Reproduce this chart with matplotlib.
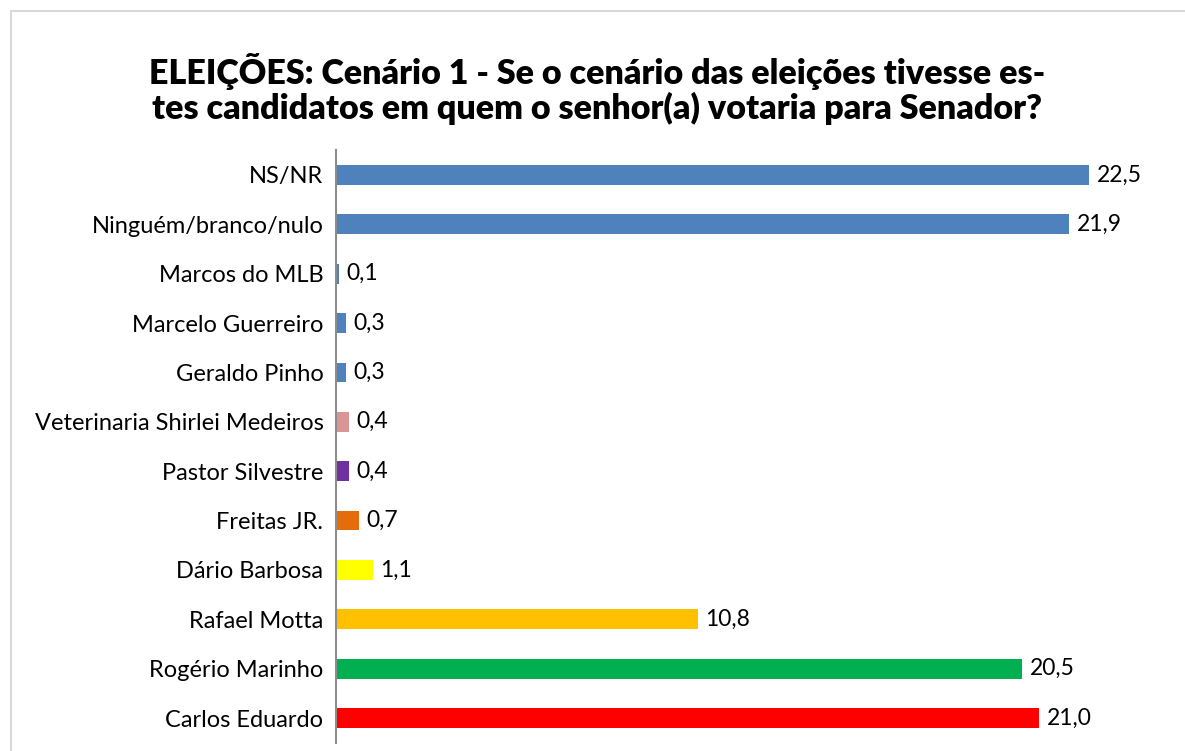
import matplotlib.pyplot as plt
from matplotlib.patches import Rectangle

# Dados do gráfico (de cima para baixo)
candidatos = ["NS/NR", "Ninguém/branco/nulo", "Marcos do MLB", "Marcelo Guerreiro",
              "Geraldo Pinho", "Veterinaria Shirlei Medeiros", "Pastor Silvestre",
              "Freitas JR.", "Dário Barbosa", "Rafael Motta", "Rogério Marinho",
              "Carlos Eduardo"]
valores = [22.5, 21.9, 0.1, 0.3, 0.3, 0.4, 0.4, 0.7, 1.1, 10.8, 20.5, 21.0]
cores = ["#4F81BD", "#4F81BD", "#4F81BD", "#4F81BD", "#4F81BD", "#D99694",
         "#7030A0", "#E46C0A", "#FFFF00", "#FFC000", "#00B050", "#FF0000"]

plt.rcParams['font.family'] = ['Lato', 'DejaVu Sans']

fig = plt.figure(figsize=(11.85, 7.51), dpi=100)
ax = fig.add_axes([0.2835, 0.011, 0.7065, 0.789])

pos = list(range(len(candidatos)))
ax.barh(pos, valores, height=0.4, color=cores)
ax.set_ylim(len(candidatos) - 0.5, -0.5)
ax.set_xlim(0, 25)

for y, v in zip(pos, valores):
    ax.text(v + 0.22, y, f"{v:.1f}".replace(".", ","), va="center", ha="left",
            fontsize=16.5, color="black")

ax.set_yticks(pos)
ax.set_yticklabels(candidatos, fontsize=17)
ax.tick_params(axis="y", length=0, pad=9)
ax.set_xticks([])
for s in ["top", "right", "bottom"]:
    ax.spines[s].set_visible(False)
ax.spines["left"].set_color("#8C8C8C")
ax.spines["left"].set_linewidth(1.5)

fig.text(0.504, 0.8815,
         "ELEIÇÕES: Cenário 1 - Se o cenário das eleições tivesse es-\n"
         "tes candidatos em quem o senhor(a) votaria para Senador?",
         ha="center", va="center", fontsize=24.5, fontweight="heavy",
         linespacing=1.1)

# Moldura cinza clara
fig.patches.append(Rectangle((11 / 1185, -0.05), 1.2, 1 - 11 / 751 + 0.05,
                             transform=fig.transFigure, fill=False,
                             edgecolor="#D9D9D9", linewidth=1.5))

fig.savefig("out.png", dpi=100)
